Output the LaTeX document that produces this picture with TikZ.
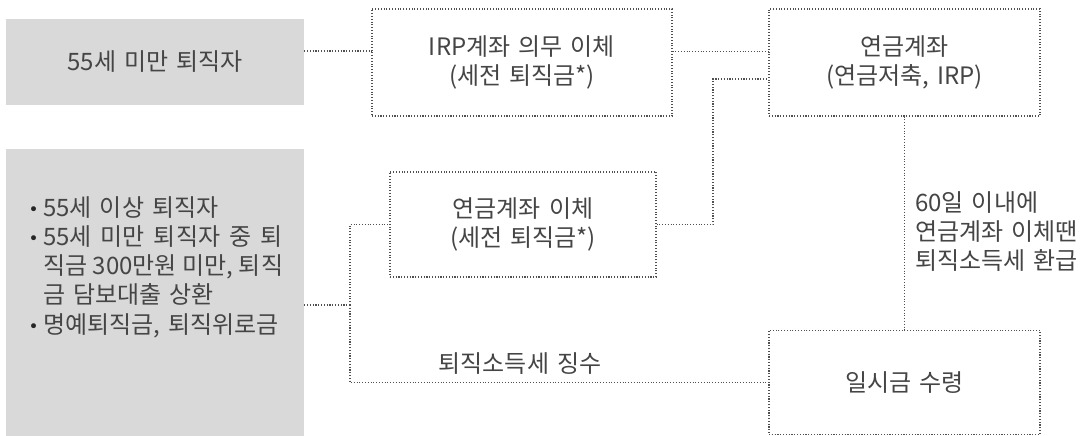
\documentclass[tikz,border=0pt]{standalone}
\usepackage{fontspec}
\setmainfont[WordSpace=1.5]{Noto Sans CJK KR}
\newfontfamily\dejavu{DejaVu Sans}
\definecolor{boxgray}{HTML}{D9D9D9}
\definecolor{txt}{HTML}{454545}
\definecolor{dotc}{HTML}{505050}
\newcommand{\bul}{\makebox[15pt][l]{\hspace{0.5pt}\raisebox{1pt}{\dejavu\fontsize{17}{17}\selectfont\color{black!85}•}}}
\newcommand{\jline}[1]{\makebox[239pt][s]{#1}}
\begin{document}
\begin{tikzpicture}[x=1pt,y=-1pt,
  every node/.style={font=\fontsize{24}{29}\selectfont, text=txt},
  graybox/.style={fill=boxgray, draw=none, inner sep=0pt},
  dotbox/.style={draw=dotc, line width=1.1pt, dash pattern=on 1.1pt off 1.7pt, inner sep=0pt, align=center},
  conn/.style={draw=dotc, line width=1.1pt, dash pattern=on 1.1pt off 1.7pt}]
\useasboundingbox (0,0) rectangle (1085,436);
\node[graybox, minimum width=298pt, minimum height=86pt] (a) at (155,62) {55세 미만 퇴직자};
\node[graybox, minimum width=298pt, minimum height=287pt] (b) at (155,292.5) {};
\node[anchor=base west, align=left, inner sep=0pt, font=\fontsize{24}{29.2}\selectfont] (btext) at (28,333)
 {\bul 55세 이상 퇴직자\\
  \bul\jline{55세 미만 퇴직자 중 퇴}\\
  \hphantom{\bul}\jline{직금 300만원 미만, 퇴직}\\
  \hphantom{\bul}금 담보대출 상환\\
  \bul 명예퇴직금, 퇴직위로금};
\node[dotbox, minimum width=300pt, minimum height=107pt] (irp) at (522,62.5) {IRP계좌 의무 이체\\(세전 퇴직금*)};
\node[dotbox, minimum width=271pt, minimum height=107pt] (pen) at (904.5,62.5) {연금계좌\\(연금저축, IRP)};
\node[dotbox, minimum width=266pt, minimum height=105pt] (trans) at (523,224.5) {연금계좌 이체\\(세전 퇴직금*)};
\node[dotbox, minimum width=271pt, minimum height=104pt] (lump) at (904.5,382.5) {일시금 수령};
\draw[conn] ([yshift=11pt]a.east) -- ([yshift=11pt]a.east -| irp.west);
\draw[conn] ([yshift=11pt]irp.east) -- ([yshift=11pt]irp.east -| pen.west);
\coordinate (j1) at (713,224.5);
\draw[conn] (trans.east) -- (j1) |- ([yshift=-16.5pt]pen.west);
\coordinate (j2) at (350,305);
\draw[conn] ([yshift=-12.5pt]b.east) -- (j2);
\draw[conn] (j2) |- (trans.west);
\draw[conn] (j2) |- (lump.west);
\draw[conn] (pen.south) -- (lump.north);
\node[inner sep=0pt] (tax) at (520,364) {퇴직소득세 징수};
\node[anchor=base west, align=left, inner sep=0pt, font=\fontsize{24}{29}\selectfont] (refund) at (915,269)
 {60일 이내에\\연금계좌 이체땐\\퇴직소득세 환급};
\end{tikzpicture}
\end{document}
